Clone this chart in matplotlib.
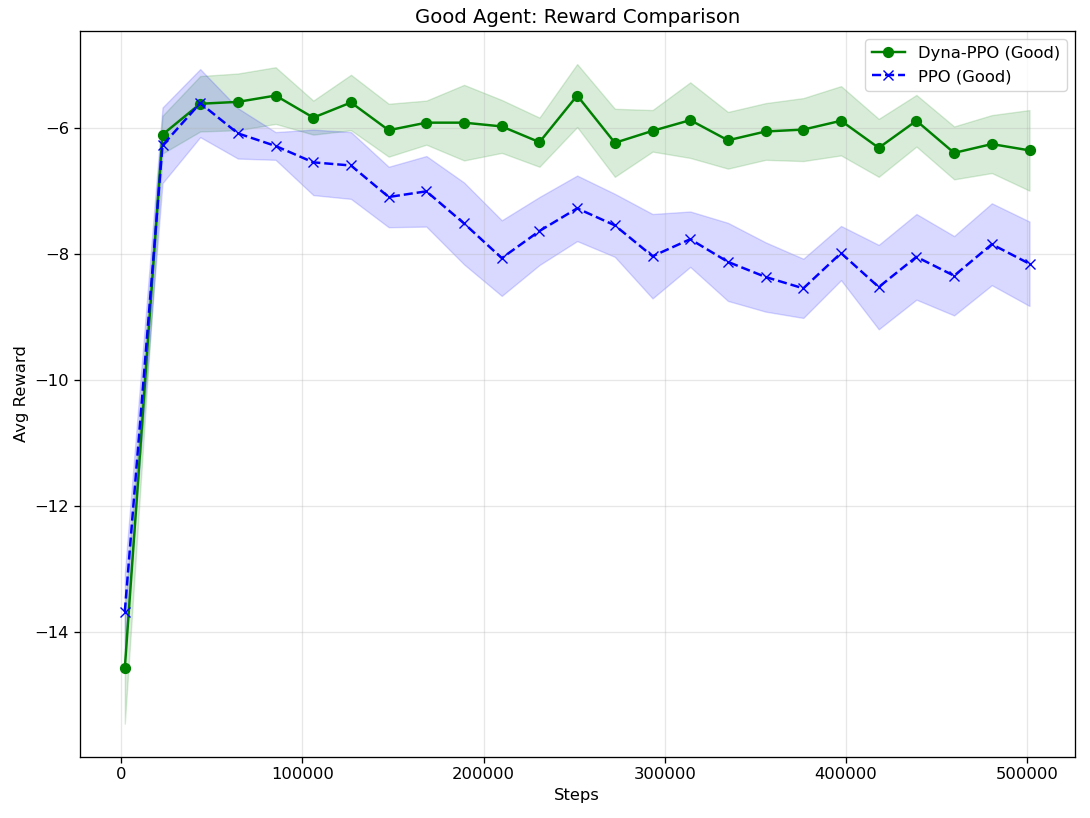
import matplotlib
matplotlib.use('Agg')
import matplotlib.pyplot as plt
import numpy as np

steps = [2000, 22800, 43600, 64400, 85200, 106000, 126800, 147600, 168400,
         189200, 210000, 230800, 251600, 272400, 293200, 314000, 334800,
         355600, 376400, 397200, 418000, 438800, 459600, 480400, 501200]

dyna_mean = [-14.57, -6.10, -5.61, -5.58, -5.48, -5.83, -5.59, -6.03, -5.91,
             -5.91, -5.97, -6.22, -5.48, -6.23, -6.04, -5.87, -6.19, -6.05,
             -6.02, -5.88, -6.31, -5.88, -6.39, -6.25, -6.35]
dyna_std = [0.88, 0.30, 0.44, 0.45, 0.45, 0.27, 0.44, 0.42, 0.35, 0.60, 0.42,
            0.39, 0.50, 0.54, 0.33, 0.60, 0.45, 0.45, 0.50, 0.55, 0.46, 0.41,
            0.42, 0.46, 0.64]

ppo_mean = [-13.67, -6.27, -5.60, -6.08, -6.28, -6.54, -6.59, -7.09, -7.00,
            -7.51, -8.06, -7.63, -7.27, -7.54, -8.03, -7.76, -8.12, -8.36,
            -8.54, -7.98, -8.52, -8.04, -8.34, -7.84, -8.15]
ppo_std = [0.60, 0.60, 0.54, 0.40, 0.22, 0.52, 0.53, 0.48, 0.56, 0.65, 0.60,
           0.54, 0.52, 0.50, 0.67, 0.44, 0.62, 0.55, 0.47, 0.43, 0.67, 0.68,
           0.63, 0.65, 0.67]

# reference looks like it was rendered ~1.18x larger than default
s = 1.18
plt.rcParams.update({
    'font.size': 10 * s,
    'axes.titlesize': 12 * s,
    'lines.linewidth': 1.5 * s,
    'lines.markersize': 6 * s,
    'axes.linewidth': 0.8 * s,
    'xtick.major.size': 3.5 * s,
    'ytick.major.size': 3.5 * s,
    'xtick.major.width': 0.8 * s,
    'ytick.major.width': 0.8 * s,
    'grid.linewidth': 0.8 * s,
})

x = np.array(steps)
dm, ds = np.array(dyna_mean), np.array(dyna_std)
pm, ps = np.array(ppo_mean), np.array(ppo_std)

fig = plt.figure(figsize=(10.9, 8.18), dpi=100)
ax = fig.add_axes([0.073, 0.075, 0.913, 0.887])

ax.plot(x, dm, 'o-', color='green', label='Dyna-PPO (Good)')
ax.fill_between(x, dm - ds, dm + ds, color='green', alpha=0.15)
ax.plot(x, pm, 'x--', color='blue', label='PPO (Good)')
ax.fill_between(x, pm - ps, pm + ps, color='blue', alpha=0.15)

ax.set_title('Good Agent: Reward Comparison')
ax.set_xlabel('Steps')
ax.set_ylabel('Avg Reward')
ax.grid(alpha=0.3)
ax.legend(loc='upper right')

fig.savefig('out.png', dpi=100)
